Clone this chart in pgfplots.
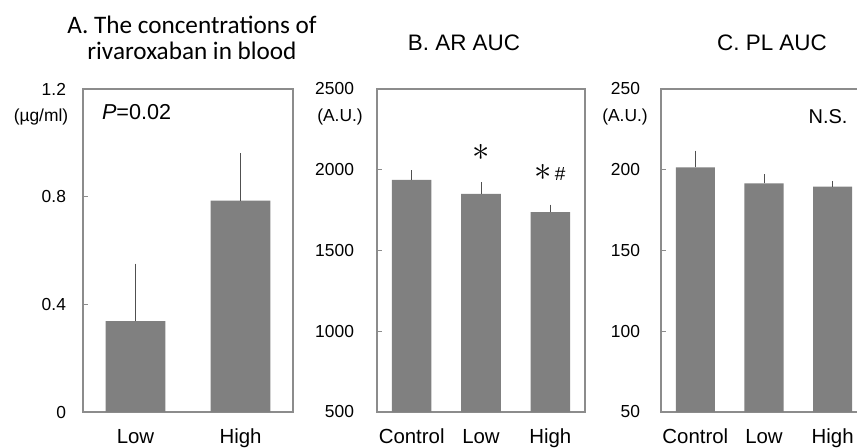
\documentclass[border=0pt]{standalone}
\usepackage{fontspec}
\setmainfont{Liberation Sans}
\newfontfamily\calibri{Carlito}
\usepackage{pgfplots}
\pgfplotsset{compat=1.18}

\definecolor{barfill}{HTML}{808080}
\definecolor{axgray}{HTML}{8C8C8C}
\definecolor{errgray}{HTML}{505050}

\pgfplotsset{
  panel/.style={
    scale only axis, anchor=south west, height=161.5pt,
    axis line style={axgray, line width=0.6pt},
    ytick pos=left, tick align=inside, major tick length=2.5pt,
    ytick style={axgray, line width=0.6pt},
    xtick style={draw=none},
    xtick=data, xmin=-0.5,
    ybar, bar width=0.57,
    yticklabel style={font=\fontsize{8.7}{10}\selectfont},
    xticklabel style={font=\fontsize{10.2}{11}\selectfont, inner sep=0pt, anchor=base, yshift=-13.3pt},
    /pgf/number format/assume math mode=true,
    /pgf/number format/1000 sep={},
  },
  barstyle/.style={
    fill=barfill, draw=none,
    error bars/.cd, y dir=plus, y explicit,
    error bar style={errgray, line width=0.5pt},
    error mark options={errgray, mark size=1.6pt, line width=0.5pt},
  },
}

\begin{document}
\begin{tikzpicture}
\path[use as bounding box] (0,0) rectangle (428.5pt,223.5pt);
\clip (0,0) rectangle (428.5pt,223.5pt);

% A: concentrations
\begin{axis}[panel, at={(41.5pt,17.5pt)}, width=105pt,
  xmax=1.5, ymin=0, ymax=1.2, ytick={0,0.4,0.8,1.2},
  xticklabels={Low,High},
  yticklabel style={xshift=-5pt},
]
\addplot[barstyle] coordinates {(0,0.338) +- (0,0.201) (1,0.785) +- (0,0.165)};
\end{axis}

% B: AR AUC
\begin{axis}[panel, at={(188.5pt,17.5pt)}, width=104pt,
  xmax=2.5, ymin=500, ymax=2500, ytick={500,1000,1500,2000,2500},
  xticklabels={Control,Low,High},
  yticklabel style={xshift=-8pt},
]
\addplot[barstyle] coordinates {(0,1938) +- (0,40) (1,1850) +- (0,54) (2,1737) +- (0,27)};
\node[font=\fontsize{18}{18}\selectfont] at (axis cs:1,2107) {$\ast$};
\node[font=\fontsize{18}{18}\selectfont] at (axis cs:1.89,1983) {$\ast$};
\node[font=\fontsize{9.5}{10}\selectfont] at (axis cs:2.14,1972) {\#};
\end{axis}

% C: PL AUC
\begin{axis}[panel, at={(330.5pt,17.5pt)}, width=103pt,
  xmax=2.5, ymin=50, ymax=250, ytick={50,100,150,200,250},
  xticklabels={Control,Low,High},
  yticklabel style={xshift=-7pt},
]
\addplot[barstyle] coordinates {(0,201.5) +- (0,8.4) (1,191.6) +- (0,3.7) (2,189.5) +- (0,1.7)};
\end{axis}

% titles and annotations
\node[anchor=base, font=\calibri\fontsize{12.6}{13}\selectfont] at (96pt,207pt) {A. The concentrations of};
\node[anchor=base, font=\calibri\fontsize{12.6}{13}\selectfont] at (96pt,193.85pt) {rivaroxaban in blood};
\node[anchor=base, font=\fontsize{11.2}{13}\selectfont] at (232pt,198.5pt) {B. AR AUC};
\node[anchor=base, font=\fontsize{11.2}{13}\selectfont] at (386pt,198.5pt) {C. PL AUC};
\node[font=\fontsize{8.7}{10}\selectfont] at (20.5pt,165pt) {(µg/ml)};
\node[font=\fontsize{8.7}{10}\selectfont] at (170pt,165pt) {(A.U.)};
\node[font=\fontsize{8.7}{10}\selectfont] at (312.5pt,165pt) {(A.U.)};
\node[anchor=west, font=\fontsize{10.8}{12}\selectfont] at (47.5pt,167.5pt) {\textit{P}=0.02};
\node[font=\fontsize{10}{12}\selectfont] at (414pt,165pt) {N.S.};
\end{tikzpicture}
\end{document}
